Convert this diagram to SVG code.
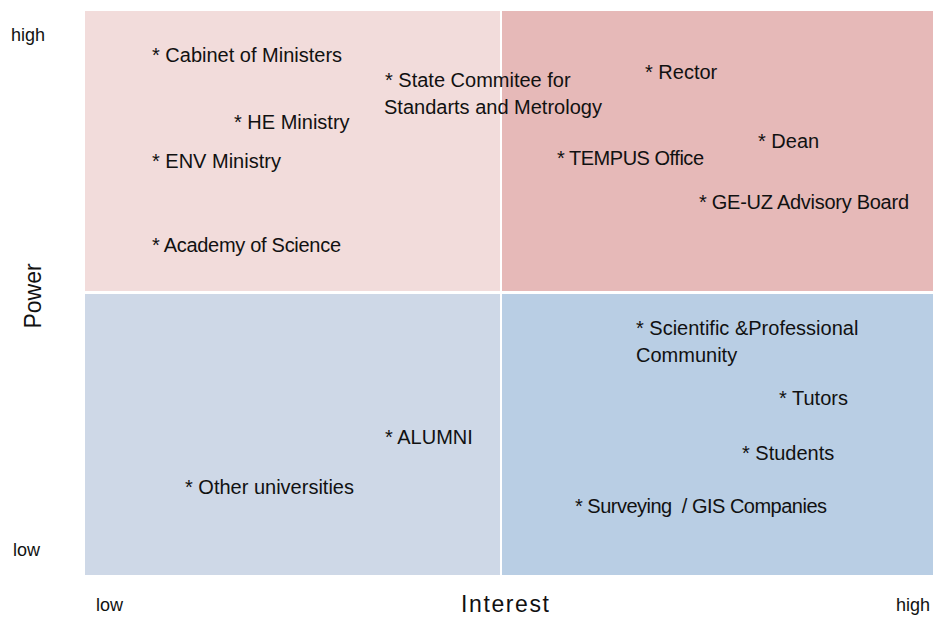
<svg xmlns="http://www.w3.org/2000/svg" width="933" height="618" viewBox="0 0 933 618">
<style>
.t{font-family:"Liberation Sans",Arial,sans-serif;font-size:20px;fill:#111}
.ax{font-family:"Liberation Sans",Arial,sans-serif;font-size:18px;fill:#111}
.big{font-family:"Liberation Sans",Arial,sans-serif;font-size:23px;fill:#111}
</style>
<rect width="933" height="618" fill="#fff"/>
<g id="quadrants">
<rect id="q-tl" x="85" y="11" width="415" height="280" fill="#F2DCDB"/>
<rect id="q-tr" x="502" y="11" width="431" height="280" fill="#E6B9B8"/>
<rect id="q-bl" x="85" y="294" width="415" height="281" fill="#CED8E7"/>
<rect id="q-br" x="502" y="294" width="431" height="281" fill="#B9CEE4"/>
</g>
<g id="axes">
<text class="ax" x="11" y="41">high</text>
<text class="ax" x="13" y="556">low</text>
<text class="ax" x="96" y="611">low</text>
<text class="ax" x="896" y="611">high</text>
<text class="big" x="461" y="612" textLength="88">Interest</text>
<text class="big" transform="translate(41,296) rotate(-90)" text-anchor="middle">Power</text>
</g>
<g id="n-cabinet"><text class="t" x="152" y="62">* Cabinet of Ministers</text></g>
<g id="n-state"><text class="t" x="385" y="87">* State Commitee for</text><text class="t" x="384" y="114">Standarts and Metrology</text></g>
<g id="n-he"><text class="t" x="234" y="129">* HE Ministry</text></g>
<g id="n-env"><text class="t" x="152" y="168">* ENV Ministry</text></g>
<g id="n-academy"><text class="t" x="152" y="252" textLength="189">* Academy of Science</text></g>
<g id="n-rector"><text class="t" x="645" y="79">* Rector</text></g>
<g id="n-dean"><text class="t" x="758" y="148">* Dean</text></g>
<g id="n-tempus"><text class="t" x="557" y="165" textLength="147">* TEMPUS Office</text></g>
<g id="n-geuz"><text class="t" x="699" y="209" textLength="210">* GE-UZ Advisory Board</text></g>
<g id="n-scientific"><text class="t" x="636" y="335">* Scientific &amp;Professional</text><text class="t" x="636" y="362">Community</text></g>
<g id="n-tutors"><text class="t" x="779" y="405">* Tutors</text></g>
<g id="n-students"><text class="t" x="742" y="460">* Students</text></g>
<g id="n-surveying"><text class="t" x="575" y="513" textLength="252" xml:space="preserve">* Surveying  / GIS Companies</text></g>
<g id="n-alumni"><text class="t" x="385" y="444">* ALUMNI</text></g>
<g id="n-other"><text class="t" x="185" y="494">* Other universities</text></g>
<g id="connectors"></g>
</svg>
